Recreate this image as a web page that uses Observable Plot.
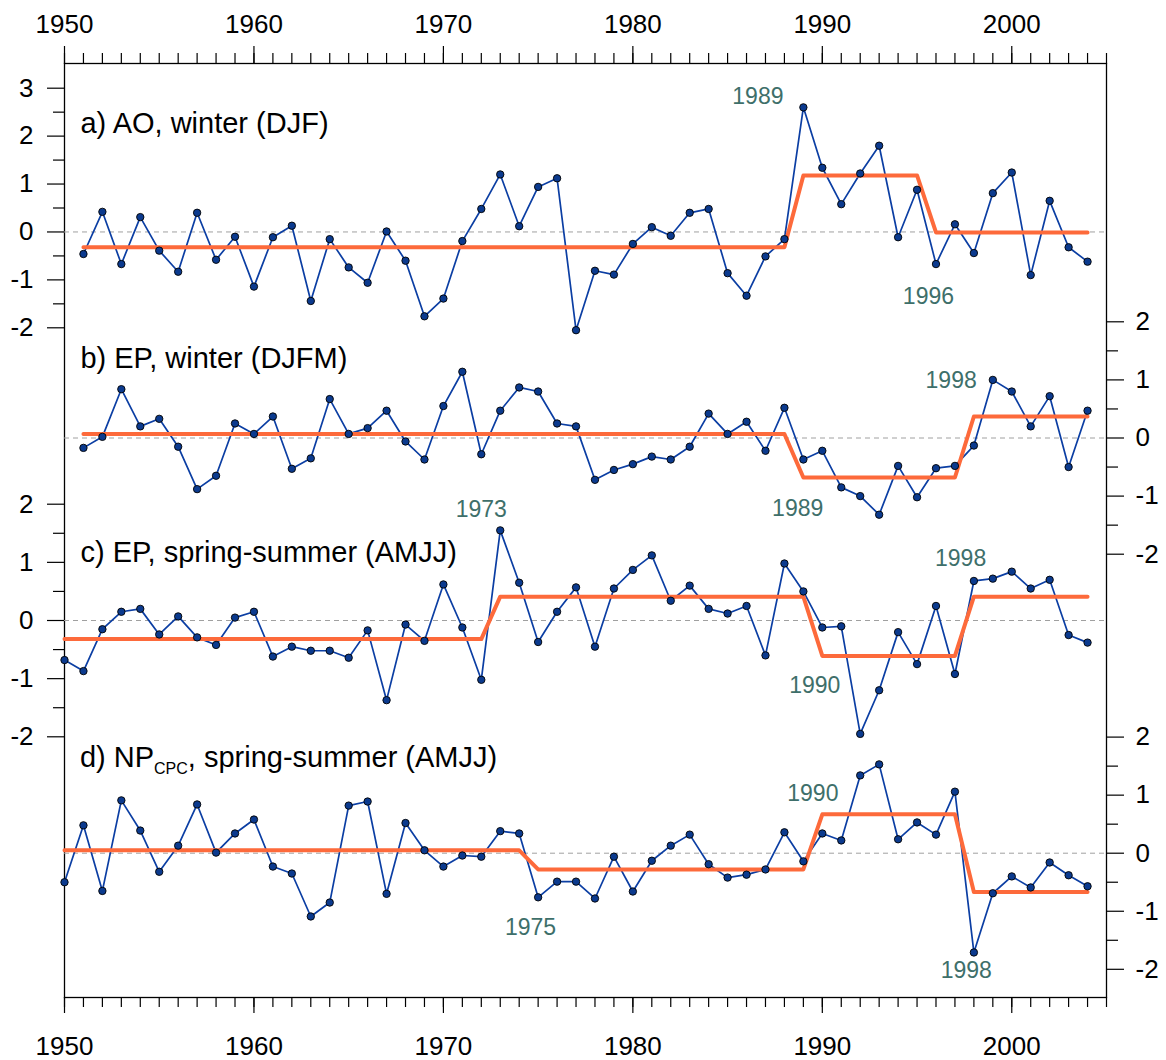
<!DOCTYPE html>
<html><head><meta charset="utf-8">
<script src="https://cdn.jsdelivr.net/npm/d3@7"></script>
<script src="https://cdn.jsdelivr.net/npm/@observablehq/plot@0.6"></script>
<style>
html,body{margin:0;padding:0;background:#fff;}
#chart{position:relative;width:1166px;height:1060px;}
#chart svg{position:absolute;left:0;top:0;}
</style></head><body><div id="chart"></div>
<script>
// ---------- data ----------
const decadeTicks = [1950, 1960, 1970, 1980, 1990, 2000];
const startAO = 1951, startEPw = 1951, startEPs = 1950, startNP = 1950;
const aoDJF = [-0.46,0.42,-0.67,0.31,-0.39,-0.83,0.40,-0.58,-0.10,-1.14,-0.11,0.13,-1.44,-0.15,-0.74,-1.06,0.01,-0.60,-1.76,-1.39,-0.19,0.48,1.20,0.12,0.94,1.12,-2.05,
  -0.81,-0.89,-0.25,0.10,-0.08,0.40,0.48,-0.86,-1.33,-0.51,-0.15,2.60,1.34,0.58,1.22,1.80,-0.11,0.88,-0.67,0.16,-0.44,0.81,1.24,-0.90,0.65,-0.32,-0.62];
const epDJFM = [-0.17,0.02,0.84,0.20,0.33,-0.15,-0.88,-0.65,0.25,0.07,0.37,-0.53,-0.35,0.67,0.07,0.17,0.47,-0.06,-0.37,0.55,1.14,-0.28,0.47,0.87,0.80,0.25,0.20,
  -0.72,-0.55,-0.45,-0.32,-0.37,-0.15,0.42,0.07,0.28,-0.22,0.52,-0.37,-0.22,-0.85,-1.00,-1.32,-0.48,-1.02,-0.52,-0.48,-0.13,1.00,0.80,0.20,0.72,-0.50,0.47];
const epAMJJ = [-0.68,-0.87,-0.15,0.15,0.20,-0.24,0.07,-0.29,-0.42,0.05,0.15,-0.62,-0.45,-0.52,-0.52,-0.64,-0.17,-1.37,-0.07,-0.35,0.62,-0.12,-1.02,1.55,0.65,-0.37,0.15,0.57,
  -0.45,0.55,0.87,1.12,0.34,0.60,0.20,0.12,0.25,-0.60,0.98,0.50,-0.12,-0.10,-1.95,-1.20,-0.20,-0.75,0.25,-0.92,0.68,0.72,0.84,0.55,0.70,-0.25,-0.38];
const npAMJJ = [-0.50,0.48,-0.65,0.91,0.39,-0.32,0.13,0.84,0.01,0.34,0.58,-0.23,-0.35,-1.09,-0.85,0.82,0.89,-0.70,0.52,0.05,-0.23,-0.04,-0.06,0.38,0.34,-0.76,-0.49,-0.49,
  -0.78,-0.06,-0.66,-0.13,0.13,0.32,-0.19,-0.42,-0.37,-0.28,0.36,-0.14,0.34,0.22,1.34,1.53,0.24,0.53,0.32,1.06,-1.71,-0.69,-0.40,-0.59,-0.16,-0.38,-0.57];
// regime means: [first year, last year, mean]
const aoRegimes   = [[1951,1988,-0.32],[1989,1995,1.18],[1996,2004,-0.01]];
const epwRegimes  = [[1951,1988,0.07],[1989,1997,-0.68],[1998,2004,0.37]];
const epsRegimes  = [[1950,1972,-0.32],[1973,1989,0.41],[1990,1997,-0.61],[1998,2004,0.41]];
const npRegimes   = [[1950,1974,0.05],[1975,1989,-0.28],[1990,1997,0.67],[1998,2004,-0.67]];
// shift-year labels
const aoNotes  = [{label:"1989", year:1986.6, value:2.83}, {label:"1996", year:1995.6, value:-1.34}];
const epwNotes = [{label:"1998", year:1996.8, value:0.98}, {label:"1989", year:1988.7, value:-1.21}];
const epsNotes = [{label:"1973", year:1972.0, value:1.91}, {label:"1998", year:1997.3, value:1.07}, {label:"1990", year:1989.6, value:-1.12}];
const npNotes  = [{label:"1990", year:1989.5, value:1.03}, {label:"1975", year:1974.6, value:-1.28}, {label:"1998", year:1997.6, value:-2.02}];
const yTicks5 = [-2,-1,0,1,2,3], yMinor5 = [-1.5,-0.5,0.5,1.5,2.5];
const yTicks4 = [-2,-1,0,1,2],   yMinor4 = [-1.5,-0.5,0.5,1.5];

// ---------- layout ----------
const W = 1166, H = 1060;
const M = {marginLeft: 64, marginRight: 60, marginTop: 63, marginBottom: 63};
const xDomain = [1950, 2005];
const FONT = "'Liberation Sans', Arial, Helvetica, sans-serif";
const style = {fontFamily: FONT, background: "transparent", overflow: "visible", color: "#000"};
const allYears = d3.range(xDomain[0], xDomain[1] + 1);
const fmt = d => String(d);
const blank = () => "";
const TICKFONT = 26, TITLEFONT = 29, NOTEFONT = 23;

const chart = document.getElementById("chart");

const base = Plot.plot({
  width: W, height: H, ...M, style,
  x: {domain: xDomain, axis: null},
  y: {domain: [0, 1], axis: null},
  marks: [
    Plot.axisX({anchor: "top", ticks: allYears, tickSize: 11, tickFormat: blank, strokeWidth: 1.2, label: null}),
    Plot.axisX({anchor: "top", ticks: decadeTicks, tickSize: 18, tickPadding: 13, fontSize: TICKFONT, tickFormat: fmt, strokeWidth: 1.2, label: null}),
    Plot.axisX({anchor: "bottom", ticks: allYears, tickSize: 10, tickFormat: blank, strokeWidth: 1.2, label: null}),
    Plot.axisX({anchor: "bottom", ticks: decadeTicks, tickSize: 16, tickPadding: 23, fontSize: TICKFONT, tickFormat: fmt, strokeWidth: 1.2, label: null}),
    Plot.frame({stroke: "#000", strokeWidth: 1.3})
  ]
});
chart.appendChild(base);

const panels = [
  {values: aoDJF, start: startAO, regimes: aoRegimes, notes: aoNotes, domain: [-2, 3], range: [327.3, 87.7],
   anchor: "left", major: yTicks5, minor: yMinor5, title: "a) AO, winter (DJF)", titleValue: 2.25},
  {values: epDJFM, start: startEPw, regimes: epwRegimes, notes: epwNotes, domain: [-2, 2], range: [553.7, 321.3],
   anchor: "right", major: yTicks4, minor: yMinor4, title: "b) EP, winter (DJFM)", titleValue: 1.37},
  {values: epAMJJ, start: startEPs, regimes: epsRegimes, notes: epsNotes, domain: [-2, 2], range: [736.3, 503.7],
   anchor: "left", major: yTicks4, minor: yMinor4, title: "c) EP, spring-summer (AMJJ)", titleValue: 1.17},
  {values: npAMJJ, start: startNP, regimes: npRegimes, notes: npNotes, domain: [-2, 2], range: [968.8, 736.6],
   anchor: "right", major: yTicks4, minor: yMinor4, title: null, titleValue: 1.65}
];

const titleX = 1950.84;

panels.forEach((p) => {
  const pts = p.values.map((v, i) => ({year: p.start + i, value: v}));
  const step = p.regimes.flatMap(([s, e, m]) => [{year: s, value: m}, {year: e, value: m}]);
  const left = p.anchor === "left";
  const marks = [
    Plot.ruleY([0], {stroke: "#a0a0a0", strokeWidth: 1, strokeDasharray: "5,4"}),
    Plot.axisY({anchor: p.anchor, ticks: p.minor, tickSize: 11, tickFormat: blank, strokeWidth: 1.2, label: null}),
    Plot.axisY({anchor: p.anchor, ticks: p.major, tickSize: 17, tickFormat: blank, strokeWidth: 1.2, label: null}),
    Plot.text(p.major, {y: d => d, text: fmt, frameAnchor: left ? "left" : "right",
      dx: left ? -31 : 29, textAnchor: left ? "end" : "start", fontSize: TICKFONT, fill: "#000"}),
    Plot.line(pts, {x: "year", y: "value", stroke: "#0b3ea3", strokeWidth: 1.7}),
    Plot.line(step, {x: "year", y: "value", stroke: "#fd6a3b", strokeWidth: 4}),
    Plot.dot(pts, {x: "year", y: "value", r: 3.7, fill: "#0b3a8e", stroke: "#000", strokeWidth: 0.9}),
    Plot.text(p.notes, {x: "year", y: "value", text: "label", fill: "#3e6f6a", fontSize: NOTEFONT})
  ];
  if (p.title) marks.push(Plot.text([p.title], {x: () => titleX, y: () => p.titleValue, text: d => d, textAnchor: "start", fontSize: TITLEFONT, fill: "#000"}));
  const svg = Plot.plot({
    width: W, height: H, ...M, style,
    x: {domain: xDomain, axis: null},
    y: {domain: p.domain, range: p.range, axis: null},
    marks
  });
  if (!p.title) {
    const xs = svg.scale("x"), ys = svg.scale("y");
    const t = d3.select(svg).append("text")
      .attr("x", xs.apply(titleX)).attr("y", ys.apply(p.titleValue))
      .attr("dy", "0.35em").attr("text-anchor", "start")
      .attr("font-size", TITLEFONT).attr("font-family", FONT).attr("fill", "#000");
    t.append("tspan").text("d) NP");
    t.append("tspan").attr("font-size", 16).attr("dy", 7).text("CPC");
    t.append("tspan").attr("dy", -7).text(", spring-summer (AMJJ)");
  }
  chart.appendChild(svg);
});
</script></body></html>
